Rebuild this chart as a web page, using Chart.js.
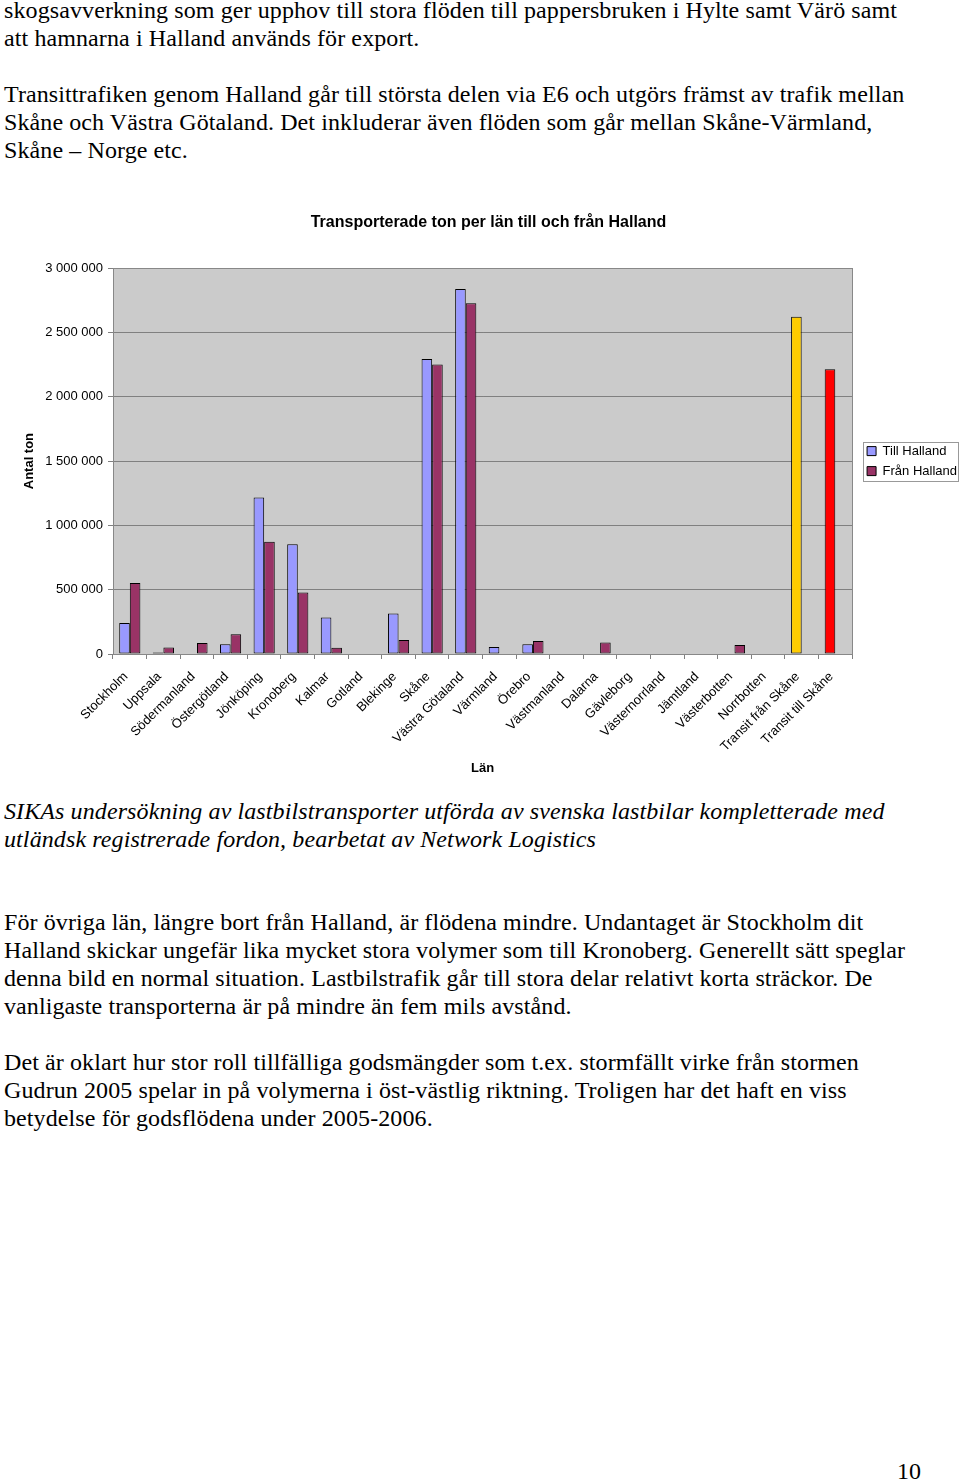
<!DOCTYPE html>
<html>
<head>
<meta charset="utf-8">
<script src="https://cdn.jsdelivr.net/npm/chart.js"></script>
<style>
  html, body { margin: 0; padding: 0; background: #fff; }
  body { width: 960px; height: 1481px; position: relative; overflow: hidden;
         font-family: "Liberation Serif", "Times New Roman", serif; font-size: 24px; color: #000; }
  .p { position: absolute; left: 4px; line-height: 28px; white-space: nowrap; letter-spacing: 0.1px; }
  .it { font-style: italic; }
  #chartBox { position: absolute; left: 0; top: 190px; width: 960px; height: 600px; }
  #pageNo { position: absolute; top: 1457px; left: 897px; line-height: 28px; }
</style>
</head>
<body>
<div class="p" style="top:-4px">skogsavverkning som ger upphov till stora flöden till pappersbruken i Hylte samt Värö samt<br>att hamnarna i Halland används för export.</div>
<div class="p" style="top:80px">Transittrafiken genom Halland går till största delen via E6 och utgörs främst av trafik mellan<br>Skåne och Västra Götaland. Det inkluderar även flöden som går mellan Skåne-Värmland,<br>Skåne – Norge etc.</div>

<div id="chartBox"><canvas id="resultChart"></canvas></div>

<div class="p it" style="top:797px">SIKAs undersökning av lastbilstransporter utförda av svenska lastbilar kompletterade med<br>utländsk registrerade fordon, bearbetat av Network Logistics</div>
<div class="p" style="top:908px">För övriga län, längre bort från Halland, är flödena mindre. Undantaget är Stockholm dit<br>Halland skickar ungefär lika mycket stora volymer som till Kronoberg. Generellt sätt speglar<br>denna bild en normal situation. Lastbilstrafik går till stora delar relativt korta sträckor. De<br>vanligaste transporterna är på mindre än fem mils avstånd.</div>
<div class="p" style="top:1048px">Det är oklart hur stor roll tillfälliga godsmängder som t.ex. stormfällt virke från stormen<br>Gudrun 2005 spelar in på volymerna i öst-västlig riktning. Troligen har det haft en viss<br>betydelse för godsflödena under 2005-2006.</div>
<div id="pageNo">10</div>

<script>
const lanLabels = ["Stockholm","Uppsala","Södermanland","Östergötland","Jönköping","Kronoberg","Kalmar","Gotland","Blekinge","Skåne","Västra Götaland","Värmland","Örebro","Västmanland","Dalarna","Gävleborg","Västernorrland","Jämtland","Västerbotten","Norrbotten","Transit från Skåne","Transit till Skåne"];
const tillHalland = [242000, 12000, null, 75000, 1216000, 854000, 283000, null, 314000, 2293000, 2839000, 55000, 75000, null, null, null, null, null, null, null, 2623000, 2215000];
const franHalland = [553000, 51000, 86000, 153000, 873000, 478000, 49000, null, 109000, 2252000, 2727000, null, 101000, null, 90000, null, null, null, 70000, null, null, null];
const yTicks = [0, 500000, 1000000, 1500000, 2000000, 2500000, 3000000];

// transit-staplarna har egna färger i originalet
const specialColor = { "Transit från Skåne": "#FFCC00", "Transit till Skåne": "#FF0000" };

function fmt(v) {
    return String(v).replace(/\B(?=(\d{3})+(?!\d))/g, " ");
}

const plotBg = {
    id: 'plotBg',
    afterLayout(c) {
        // legenden sitter lite längre till höger i originalet
        c.legend.left += 8;
        c.legend.right += 8;
    },
    beforeDraw(c) {
        const a = c.chartArea, ctx = c.ctx;
        ctx.save();
        ctx.fillStyle = '#CBCBCB';
        ctx.fillRect(a.left, a.top, a.right - a.left, a.bottom - a.top);
        ctx.restore();
    },
    afterDraw(c) {
        const a = c.chartArea, ctx = c.ctx;
        ctx.save();
        ctx.strokeStyle = '#888';
        ctx.lineWidth = 1;
        ctx.strokeRect(Math.round(a.left) + 0.5, Math.round(a.top) + 0.5, Math.round(a.right - a.left), Math.round(a.bottom - a.top));
        // ram runt legenden
        const hb = c.legend.legendHitBoxes;
        if (hb && hb.length) {
            let x0 = Math.min(...hb.map(h => h.left)), y0 = Math.min(...hb.map(h => h.top));
            let y1 = Math.max(...hb.map(h => h.top + h.height));
            ctx.strokeStyle = '#999';
            ctx.strokeRect(Math.round(x0 - 4) + 0.5, Math.round(y0 - 3) + 0.5, 95, Math.round(y1 - y0 + 6));
        }
        ctx.restore();
    }
};

Chart.defaults.font.family = '"Liberation Sans", Arial, sans-serif';
Chart.defaults.color = '#000';

window.onload = function() {
    let chart = document.getElementById('resultChart');
    window.myBar = new Chart(chart, {
        type: 'bar',
        data: {
            labels: lanLabels,
            datasets: [{
                label: 'Till Halland',
                data: tillHalland,
                backgroundColor: (ctx) => specialColor[lanLabels[ctx.dataIndex]] || '#9999FF',
                borderColor: '#000',
                borderWidth: 1,
                borderSkipped: false
            }, {
                label: 'Från Halland',
                data: franHalland,
                backgroundColor: '#993366',
                borderColor: '#000',
                borderWidth: 1,
                borderSkipped: false
            }]
        },
        options: {
            responsive: true,
            maintainAspectRatio: false,
            animation: false,
            datasets: { bar: { categoryPercentage: 0.63, barPercentage: 1.0 } },
            layout: { padding: { left: 18, right: 1, top: 0, bottom: 10 } },
            plugins: {
                title: {
                    display: true,
                    text: 'Transporterade ton per län till och från Halland',
                    font: { size: 16, weight: 'bold' },
                    padding: { top: 23, bottom: 36 }
                },
                legend: {
                    position: 'right',
                    fullSize: false,
                    labels: { boxWidth: 9, boxHeight: 9, padding: 7, font: { size: 13 }, color: '#000' }
                },
                tooltip: { enabled: false }
            },
            scales: {
                x: {
                    grid: { display: true, drawOnChartArea: false, tickLength: 5, color: '#808080' },
                    border: { color: '#808080' },
                    ticks: { minRotation: 45, maxRotation: 45, autoSkip: false, font: { size: 13 }, padding: 10, labelOffset: -4 },
                    title: { display: true, text: 'Län', font: { size: 13, weight: 'bold' } },
                    afterFit: (s) => { s.height = 126; }
                },
                y: {
                    min: 0,
                    max: 3000000,
                    afterBuildTicks: (s) => { s.ticks = yTicks.map(v => ({ value: v })); },
                    grid: { color: '#808080', tickLength: 5 },
                    border: { color: '#808080' },
                    ticks: { callback: (v) => fmt(v), font: { size: 13 }, padding: 5 },
                    title: { display: true, text: 'Antal ton', font: { size: 13, weight: 'bold' } },
                    afterFit: (s) => { s.width = 95; }
                }
            }
        },
        plugins: [plotBg]
    });
}
</script>
</body>
</html>
